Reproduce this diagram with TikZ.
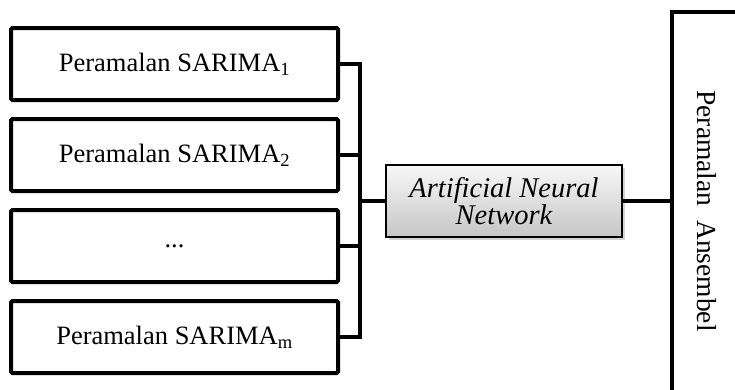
\documentclass[tikz,border=0pt]{standalone}
\usepackage{fontspec}
\setmainfont{Liberation Serif}
\usetikzlibrary{shadows}
\begin{document}
\begin{tikzpicture}[x=1pt,y=-1pt,
  inbox/.style={draw, line width=4pt, rounded corners=1.5pt, minimum width=327pt, minimum height=72pt, inner sep=0pt, font=\fontsize{26.5}{27}\selectfont},
  annbox/.style={draw, line width=1.3pt, minimum width=236pt, minimum height=72pt, inner sep=0pt, top color=gray!6, bottom color=gray!45, drop shadow={shadow xshift=2.5pt, shadow yshift=-2.5pt, opacity=0.35}, align=center, font=\fontsize{28.5}{27}\selectfont\itshape},
  link/.style={line width=4pt, line join=miter},
  ]
\useasboundingbox (0,0) rectangle (735,389);
\clip (0,0) rectangle (735,389);
\node[inbox] (b1) at (174.5,64) {Peramalan SARIMA\textsubscript{1}};
\node[inbox] (b2) at (174.5,155) {Peramalan SARIMA\textsubscript{2}};
\node[inbox] (b3) at (174.5,246) {...};
\node[inbox] (b4) at (174.5,337) {Peramalan SARIMA\textsubscript{m}};
\node[annbox] (ann) at (504,201) {Artificial Neural\\Network};
\coordinate (j) at (360,201);
\coordinate (ensL) at (672,201);
\coordinate (ensT) at (672,12);
\coordinate (ensB) at (672,400);
\coordinate (ensR) at (745,12);
\node[rotate=-90, font=\fontsize{27.5}{27}\selectfont] (ens) at (707,211) {Peramalan\ \ Ansembel};
\draw[link] (b1.east) -| (j);
\draw[link] (b4.east) -| (j);
\draw[link] (b2.east) -- (b2.east -| j);
\draw[link] (b3.east) -- (b3.east -| j);
\draw[link] (j) -- (ann.west);
\draw[link] (ann.east) -- (ensL);
\draw[link] (ensR) -- (ensT) -- (ensB);
\end{tikzpicture}
\end{document}
